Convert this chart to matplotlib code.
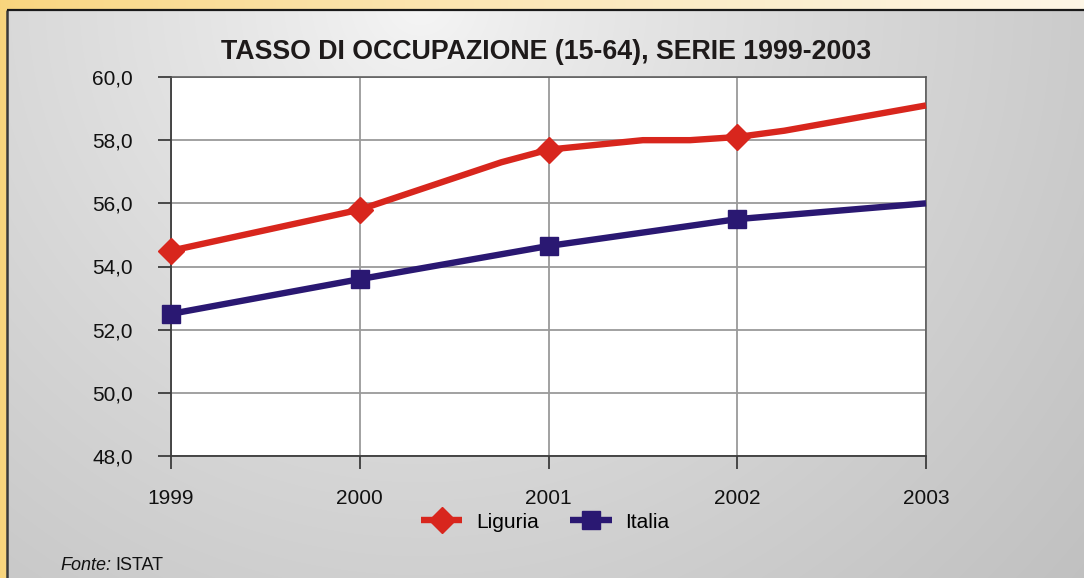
import numpy as np
import matplotlib
matplotlib.use("Agg")
import matplotlib.pyplot as plt

plt.rcParams['font.family'] = ['Liberation Sans', 'DejaVu Sans']

# ---- data ----
title = "TASSO DI OCCUPAZIONE (15-64), SERIE 1999-2003"
years = [1999, 2000, 2001, 2002, 2003]
year_labels = ["1999", "2000", "2001", "2002", "2003"]
liguria_x = [1999, 2000, 2000.25, 2000.75, 2001, 2001.5, 2001.75, 2002, 2002.25, 2003]
liguria_y = [54.5, 55.8, 56.3, 57.3, 57.7, 58.0, 58.0, 58.1, 58.3, 59.1]
liguria_marks = [0, 1, 4, 7]
italia_x = [1999, 2000, 2001, 2002, 2003]
italia_y = [52.5, 53.6, 54.65, 55.5, 56.0]
italia_marks = [0, 1, 2, 3]
y_ticks = [48, 50, 52, 54, 56, 58, 60]
y_labels = ["48,0", "50,0", "52,0", "54,0", "56,0", "58,0", "60,0"]
source_label = "Fonte:"
source_name = "ISTAT"

W, H = 1084, 578
fig = plt.figure(figsize=(W / 100, H / 100), dpi=100)

# ---- background (decoration) ----
bg = fig.add_axes([0, 0, 1, 1], zorder=-10)
bg.set_axis_off()
yy, xx = np.mgrid[0:H, 0:W].astype(float)
img = np.zeros((H, W, 3))
t = xx / W
yel0 = np.array([0.976, 0.835, 0.49])
yel1 = np.array([0.995, 0.965, 0.905])
for c in range(3):
    img[..., c] = yel0[c] + (yel1[c] - yel0[c]) * np.clip(t, 0, 1) ** 0.8
d = np.sqrt((xx - 420) ** 2 + (yy - 0) ** 2) / 880.0
g = 0.965 - 0.21 * np.clip(d, 0, 1.2) ** 0.8
mask = (xx >= 8) & (yy >= 11)
for c in range(3):
    img[..., c] = np.where(mask, g, img[..., c])
bg.imshow(img, extent=[0, W, H, 0], aspect='auto', interpolation='bilinear')
bg.set_xlim(0, W)
bg.set_ylim(H, 0)
bg.plot([7, 7], [10, H], color='#3a3a3a', lw=1.8, solid_capstyle='butt')
bg.plot([7, W], [10, 10], color='#1a1a1a', lw=1.6, solid_capstyle='butt')

# ---- main axes ----
ax = fig.add_axes([171 / W, 1 - 456 / H, (926 - 171) / W, (456 - 77) / H])
ax.set_facecolor('white')
ax.set_xlim(years[0], years[-1])
ax.set_ylim(y_ticks[0], y_ticks[-1])
ax.set_xticks(years)
ax.set_xticklabels(year_labels)
ax.set_yticks(y_ticks)
ax.set_yticklabels(y_labels)
ax.grid(True, color='#9a9a9a', lw=1.3)
ax.set_axisbelow(True)
for s in ['left', 'bottom']:
    ax.spines[s].set_color('#3c3c3c')
    ax.spines[s].set_linewidth(1.3)
for s in ['top', 'right']:
    ax.spines[s].set_color('#555555')
    ax.spines[s].set_linewidth(1.1)
ax.tick_params(axis='y', length=9.5, width=1.3, color='#3c3c3c', pad=18, labelsize=15, labelcolor='#111111')
ax.tick_params(axis='x', length=9, width=1.3, color='#3c3c3c', pad=15, labelsize=15, labelcolor='#111111')

ax.plot(liguria_x, liguria_y, color='#d8261d', lw=4.6, marker='D', markersize=13,
        markevery=liguria_marks, label='Liguria', solid_joinstyle='round',
        solid_capstyle='butt', clip_on=False, zorder=4)
ax.plot(italia_x, italia_y, color='#2a1872', lw=4.6, marker='s', markersize=13.5,
        markevery=italia_marks, label='Italia', solid_joinstyle='round',
        solid_capstyle='butt', clip_on=False, zorder=3)

leg = ax.legend(loc='center', bbox_to_anchor=(545 / W, 1 - 522 / H), bbox_transform=fig.transFigure,
                ncol=2, frameon=False, fontsize=15, handlelength=2.0, handletextpad=0.65,
                columnspacing=1.5, markerscale=1.0)

fig.text(546 / W, 1 - 52 / H, title, ha='center', va='center', fontsize=19.3,
         fontweight='bold', color='#1e1a1a')

t1 = fig.text(60 / W, 1 - 566 / H, source_label, ha='left', va='center', fontsize=13,
              style='italic', color='#111111')
fig.canvas.draw()
bb = t1.get_window_extent()
fig.text((bb.x1 + 4) / W, 1 - 566 / H, source_name, ha='left', va='center', fontsize=13,
         color='#111111')

fig.savefig('out.png', dpi=100)
